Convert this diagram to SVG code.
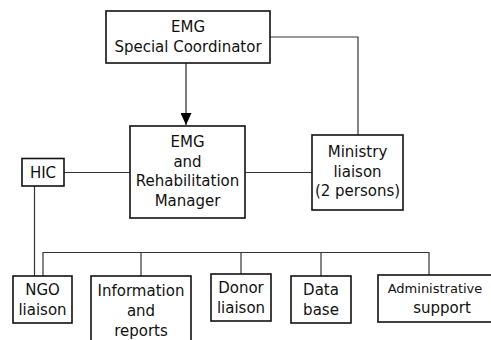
<svg xmlns="http://www.w3.org/2000/svg" width="491" height="340" viewBox="0 0 491 340">
<style>
.box{fill:#fff;stroke:#111;stroke-width:1.6}
.ln{fill:none;stroke:#333;stroke-width:1.2}
text{font-family:"DejaVu Sans","Liberation Sans",sans-serif;font-size:15px;fill:#111;text-anchor:middle}
</style>
<defs>
<marker id="arr" viewBox="0 0 12 11" refX="12" refY="5.5" markerWidth="12" markerHeight="11" markerUnits="userSpaceOnUse" orient="auto">
<path d="M0,0 L12,5.5 L0,11 Z" fill="#000"/>
</marker>
</defs>
<rect width="491" height="340" fill="#fff"/>
<g id="connectors">
<line class="ln" x1="186" y1="63" x2="186" y2="125" marker-end="url(#arr)" style="stroke:#222"/>
<polyline class="ln" points="270,37 358,37 358,135"/>
<line class="ln" x1="245" y1="172.5" x2="312" y2="172.5"/>
<line class="ln" x1="64" y1="172.5" x2="130" y2="172.5"/>
<line class="ln" x1="34.5" y1="186" x2="34.5" y2="276"/>
<polyline class="ln" points="43,276 43,252.5 429,252.5 429,275"/>
<line class="ln" x1="141" y1="252.5" x2="141" y2="276"/>
<line class="ln" x1="241" y1="252.5" x2="241" y2="274"/>
<line class="ln" x1="321" y1="252.5" x2="321" y2="276"/>
</g>
<g id="coordinator">
<rect class="box" x="106" y="11" width="164" height="52"/>
<text x="188" y="31.5">EMG</text>
<text x="188" y="51.5">Special Coordinator</text>
</g>
<g id="manager">
<rect class="box" x="130" y="126" width="115" height="92"/>
<text x="187.5" y="147">EMG</text>
<text x="187.5" y="166.5">and</text>
<text x="187.5" y="186">Rehabilitation</text>
<text x="187.5" y="205.5">Manager</text>
</g>
<g id="ministry">
<rect class="box" x="312" y="135" width="91" height="75"/>
<text x="357.5" y="157">Ministry</text>
<text x="357.5" y="176.5">liaison</text>
<text x="357.5" y="196">(2 persons)</text>
</g>
<g id="hic">
<rect class="box" x="22" y="158.5" width="42" height="27.5"/>
<text x="43" y="177.5">HIC</text>
</g>
<g id="ngo">
<rect class="box" x="13" y="276" width="59" height="47"/>
<text x="42.5" y="295">NGO</text>
<text x="42.5" y="315">liaison</text>
</g>
<g id="info">
<rect class="box" x="91" y="276" width="100" height="80"/>
<text x="141" y="296">Information</text>
<text x="141" y="316">and</text>
<text x="141" y="336">reports</text>
</g>
<g id="donor">
<rect class="box" x="211" y="274" width="60" height="47"/>
<text x="241" y="293">Donor</text>
<text x="241" y="313">liaison</text>
</g>
<g id="database">
<rect class="box" x="291" y="276" width="60" height="47"/>
<text x="321" y="295">Data</text>
<text x="321" y="314.5">base</text>
</g>
<g id="admin">
<rect class="box" x="378" y="275" width="135" height="47"/>
<text x="435" y="293" style="font-size:13px">Administrative</text>
<text x="442" y="313">support</text>
</g>
</svg>
